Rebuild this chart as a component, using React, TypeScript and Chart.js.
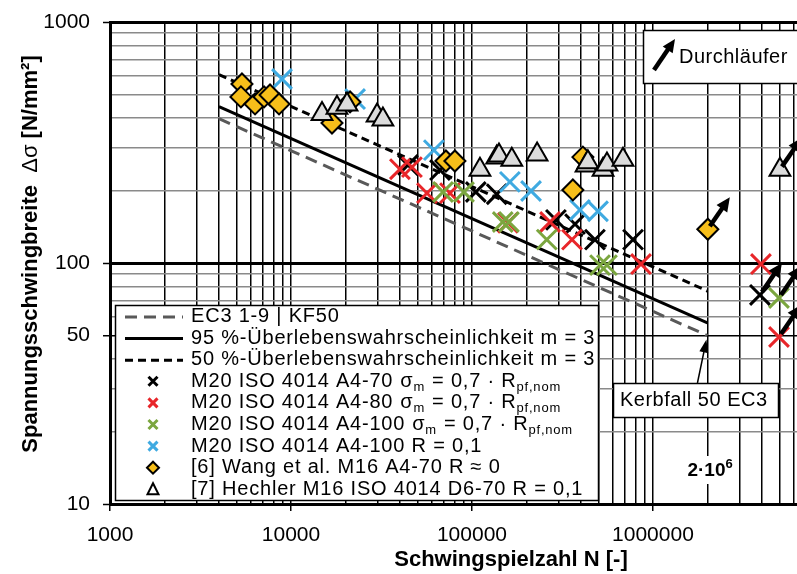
import React, { useEffect, useRef } from 'react';
import { Chart, registerables } from 'chart.js';

Chart.register(...registerables);

const FONT = '"Liberation Sans", Arial, Helvetica, sans-serif';

// Axis ranges and tick labels
const xMin = 1000;
const xMax = 6.25e6;
const yMin = 10;
const yMax = 1000;
const xTickLabels = [1000, 10000, 100000, 1000000];
const yTickLabels = [10, 50, 100, 1000];

// S-N lines (N from 4000 to 2e6)
const lineN = [4000, 2000000];
const kf50S = [397, 50];
const p95S = [445, 56.4];
const p50S = [605, 76.5];

// M20 ISO 4014 A4-70, sigma_m = 0.7 Rpf,nom
const a470N = [44300, 66600, 105000, 137000, 291000, 371000, 478000, 776000, 3900000];
const a470S = [255, 243, 197, 193, 151, 145, 125, 125, 73.7];

// M20 ISO 4014 A4-80
const a480N = [40000, 46600, 56400, 75600, 158000, 270000, 357000, 859000, 3950000, 4970000];
const a480S = [245, 250, 195, 195, 147, 148, 125, 99, 99, 49.3];

// M20 ISO 4014 A4-100
const a4100N = [69200, 90300, 148000, 160000, 259000, 510000, 557000, 4970000];
const a4100S = [197, 197, 148, 148, 125, 98, 98, 71.6];

// M20 ISO 4014 A4-100 R = 0,1
const a4100rN = [8920, 22600, 61600, 162000, 212000, 395000, 497000];
const a4100rS = [580, 479, 294, 217, 199, 166, 164];

// [6] Wang et al.
const wangN = [5360, 5290, 6330, 7100, 7660, 8590, 16850, 21200, 71800, 80500, 361000, 410000, 2010000];
const wangS = [553, 489, 457, 489, 498, 457, 381, 466, 265, 265, 201, 275, 138];

// [7] Hechler
const hechN = [14840, 17950, 20400, 29900, 32200, 110700, 137000, 141000, 166000, 229000, 427000, 437000, 530000, 557000, 683000, 5030000];
const hechS = [415, 441, 455, 409, 394, 244, 274, 279, 268, 282, 254, 262, 244, 256, 268, 244];

// Run-outs (Durchläufer)
const runoutN = [2010000, 5030000, 3900000, 4970000, 4970000];
const runoutS = [138, 244, 73.7, 71.6, 49.3];

const legendLabels = [
  'EC3 1-9 | KF50',
  '95 %-Überlebenswahrscheinlichkeit m = 3',
  '50 %-Überlebenswahrscheinlichkeit m = 3',
  'M20 ISO 4014 A4-70',
  'M20 ISO 4014 A4-80',
  'M20 ISO 4014 A4-100',
  'M20 ISO 4014 A4-100 R = 0,1',
  '[6] Wang et al. M16 A4-70 R ≈ 0',
  '[7] Hechler M16 ISO 4014 D6-70 R = 0,1',
];

const RED = '#E8262A';
const GREEN = '#7BA63F';
const BLUE = '#3FAAE1';
const YELLOW = '#F6BE1A';
const TRI = '#DCDCDC';
const GRAYLINE = '#595959';

const pts = (n: number[], s: number[]) => n.map((v, i) => ({ x: v, y: s[i] }));

const gridValues = (lo: number, hi: number) => {
  const out: number[] = [];
  for (let k = 0; k <= 8; k++) {
    for (let m = 1; m <= 9; m++) {
      const v = m * 10 ** k;
      if (v >= lo && v <= hi) out.push(v);
    }
  }
  return out;
};

function arrow(ctx: CanvasRenderingContext2D, x0: number, y0: number, x1: number, y1: number, lw: number, hl: number, hw: number) {
  const a = Math.atan2(y1 - y0, x1 - x0);
  const bx = x1 - hl * Math.cos(a);
  const by = y1 - hl * Math.sin(a);
  ctx.save();
  ctx.strokeStyle = '#000';
  ctx.fillStyle = '#000';
  ctx.lineWidth = lw;
  ctx.setLineDash([]);
  ctx.beginPath();
  ctx.moveTo(x0, y0);
  ctx.lineTo(bx + 1 * Math.cos(a), by + 1 * Math.sin(a));
  ctx.stroke();
  ctx.beginPath();
  ctx.moveTo(x1, y1);
  ctx.lineTo(bx + (hw / 2) * Math.sin(a), by - (hw / 2) * Math.cos(a));
  ctx.lineTo(bx - (hw / 2) * Math.sin(a), by + (hw / 2) * Math.cos(a));
  ctx.closePath();
  ctx.fill();
  ctx.restore();
}

type Seg = [string, string];
function drawSegs(ctx: CanvasRenderingContext2D, x: number, y: number, segs: Seg[], size: number, weight = '') {
  for (const [t, kind] of segs) {
    if (kind === 'sub') {
      ctx.font = `${weight} ${Math.round(size * 0.66)}px ${FONT}`;
      ctx.fillText(t, x, y + size * 0.3);
    } else if (kind === 'sup') {
      ctx.font = `${weight} ${Math.round(size * 0.68)}px ${FONT}`;
      ctx.fillText(t, x, y - size * 0.35);
    } else if (kind === 'gap') {
      x += Number(t);
      continue;
    } else if (kind === 'reg') {
      ctx.font = `${size}px ${FONT}`;
      ctx.fillText(t, x, y);
    } else {
      ctx.font = `${weight} ${size}px ${FONT}`;
      ctx.fillText(t, x, y);
    }
    x += ctx.measureText(t).width;
  }
  return x;
}

function crossMark(ctx: CanvasRenderingContext2D, x: number, y: number, r: number, color: string, lw: number) {
  ctx.save();
  ctx.strokeStyle = color;
  ctx.lineWidth = lw;
  ctx.beginPath();
  ctx.moveTo(x - r, y - r);
  ctx.lineTo(x + r, y + r);
  ctx.moveTo(x - r, y + r);
  ctx.lineTo(x + r, y - r);
  ctx.stroke();
  ctx.restore();
}

const overlay = {
  id: 'overlay',
  afterDatasetsDraw(chart: any) {
    const { ctx, scales } = chart;
    const xs = scales.x;
    const ys = scales.y;
    runoutN.forEach((n, i) => {
      const px = xs.getPixelForValue(n);
      const py = ys.getPixelForValue(runoutS[i]);
      arrow(ctx, px + 2, py - 3, px + 22, py - 32, 4.5, 14, 13);
    });
  },
  afterDraw(chart: any) {
    const { ctx, scales } = chart;
    const xs = scales.x;
    const ys = scales.y;
    ctx.save();
    ctx.textBaseline = 'middle';
    ctx.fillStyle = '#000';
    (ctx as any).letterSpacing = '0.8px';

    // Legend
    const L = 115.5, T = 305.5, W = 483, H = 195;
    ctx.fillStyle = '#fff';
    ctx.fillRect(L, T, W, H);
    ctx.strokeStyle = '#000';
    ctx.lineWidth = 1.5;
    ctx.strokeRect(L, T, W, H);
    const rowY = (i: number) => 316.5 + i * 21.6;
    const lx0 = 125, lx1 = 183, mx = 153, tx = 191;
    const lineStyles: [string, number[]][] = [
      [GRAYLINE, [12, 7]],
      ['#000', []],
      ['#000', [8, 5]],
    ];
    lineStyles.forEach(([c, d], i) => {
      ctx.save();
      ctx.strokeStyle = c;
      ctx.lineWidth = 3;
      ctx.setLineDash(d);
      ctx.beginPath();
      ctx.moveTo(lx0, rowY(i) + 0.5);
      ctx.lineTo(lx1, rowY(i) + 0.5);
      ctx.stroke();
      ctx.restore();
    });
    crossMark(ctx, mx, rowY(3), 4.5, '#000', 3);
    crossMark(ctx, mx, rowY(4), 4.5, RED, 3);
    crossMark(ctx, mx, rowY(5), 4.5, GREEN, 3);
    crossMark(ctx, mx, rowY(6), 4.5, BLUE, 3);
    // diamond
    ctx.save();
    ctx.fillStyle = YELLOW;
    ctx.strokeStyle = '#000';
    ctx.lineWidth = 2;
    ctx.beginPath();
    const dy = rowY(7);
    ctx.moveTo(mx - 6, dy);
    ctx.lineTo(mx, dy - 6);
    ctx.lineTo(mx + 6, dy);
    ctx.lineTo(mx, dy + 6);
    ctx.closePath();
    ctx.fill();
    ctx.stroke();
    // triangle
    const ty = rowY(8);
    ctx.fillStyle = '#fff';
    ctx.beginPath();
    ctx.moveTo(mx, ty - 6);
    ctx.lineTo(mx + 5.5, ty + 5);
    ctx.lineTo(mx - 5.5, ty + 5);
    ctx.closePath();
    ctx.fill();
    ctx.stroke();
    ctx.restore();

    ctx.fillStyle = '#000';
    const fs = 20;
    legendLabels.forEach((lab, i) => {
      if (i >= 3 && i <= 5) {
        drawSegs(ctx, tx, rowY(i), [
          [lab, 'n'], ['7', 'gap'], ['σ', 'n'], ['m', 'sub'], ['7', 'gap'], ['= 0,7 · R', 'n'], ['pf,nom', 'sub'],
        ], fs);
      } else {
        drawSegs(ctx, tx, rowY(i), [[lab, 'n']], fs);
      }
    });

    // Durchläufer box
    ctx.fillStyle = '#fff';
    ctx.fillRect(643.5, 30.5, 200, 53);
    ctx.strokeStyle = '#000';
    ctx.lineWidth = 1.5;
    ctx.strokeRect(643.5, 30.5, 200, 53);
    arrow(ctx, 654, 70, 675, 39, 4.5, 13, 12);
    ctx.fillStyle = '#000';
    (ctx as any).letterSpacing = '0.5px';
    drawSegs(ctx, 679, 57.5, [['Durchläufer', 'n']], 20);

    // Kerbfall label
    const kx = xs.getPixelForValue(2000000);
    const ky = ys.getPixelForValue(50);
    ctx.fillStyle = '#fff';
    ctx.fillRect(613.5, 383.5, 165, 34);
    ctx.strokeStyle = '#000';
    ctx.lineWidth = 1.5;
    ctx.strokeRect(613.5, 383.5, 165, 34);
    ctx.fillStyle = '#000';
    drawSegs(ctx, 620, 400.5, [['Kerbfall 50 EC3', 'n']], 20);
    arrow(ctx, kx - 10, 383, kx - 1, ky + 4, 1.5, 13, 9);

    // 2·10^6 label
    ctx.fillStyle = '#fff';
    ctx.fillRect(kx - 21, 456, 43, 28);
    ctx.fillStyle = '#000';
    (ctx as any).letterSpacing = '0px';
    drawSegs(ctx, kx - 20, 471, [['2·10', 'n'], ['6', 'sup']], 19, 'bold');

    // x-axis title
    ctx.font = `bold 22px ${FONT}`;
    ctx.textAlign = 'center';
    ctx.fillText('Schwingspielzahl N [-]', 511, 560);

    // y-axis title
    ctx.save();
    ctx.translate(31, 254);
    ctx.rotate(-Math.PI / 2);
    ctx.textAlign = 'left';
    const yParts: Seg[] = [['Spannungsschwingbreite  ', 'n'], ['Δσ', 'reg'], [' [N/mm²]', 'n']];
    let tw = 0;
    yParts.forEach(([t, k]) => {
      ctx.font = k === 'reg' ? `22px ${FONT}` : `bold 22px ${FONT}`;
      tw += ctx.measureText(t).width;
    });
    drawSegs(ctx, -tw / 2, 0, yParts, 22, 'bold');
    ctx.restore();
    ctx.restore();
  },
};

const xGrid = gridValues(xMin, xMax);
const yGrid = gridValues(yMin, yMax);

export default function App() {
  const ref = useRef<HTMLCanvasElement>(null);
  useEffect(() => {
    const canvas = ref.current;
    if (!canvas) return;
    Chart.defaults.font.family = FONT;
    Chart.defaults.color = '#000';
    const crossDs = (label: string, n: number[], s: number[], color: string, order: number) => ({
      label,
      data: pts(n, s),
      pointStyle: 'crossRot',
      pointRadius: 14,
      pointHoverRadius: 14,
      borderColor: color,
      backgroundColor: color,
      pointBorderWidth: 3,
      borderWidth: 3,
      order,
    });
    const lineDs = (label: string, s: number[], color: string, dash: number[]) => ({
      label,
      data: pts(lineN, s),
      showLine: true,
      borderColor: color,
      borderWidth: 3,
      borderDash: dash,
      pointRadius: 0,
      fill: false,
      order: 100,
    });
    const chart = new Chart(canvas, {
      type: 'scatter',
      data: {
        datasets: [
          lineDs(legendLabels[0], kf50S, GRAYLINE, [12, 7]),
          lineDs(legendLabels[1], p95S, '#000', []),
          lineDs(legendLabels[2], p50S, '#000', [8, 5]),
          crossDs(legendLabels[3], a470N, a470S, '#000', 6),
          crossDs(legendLabels[4], a480N, a480S, RED, 5),
          crossDs(legendLabels[5], a4100N, a4100S, GREEN, 4),
          crossDs(legendLabels[6], a4100rN, a4100rS, BLUE, 3),
          {
            label: legendLabels[7],
            data: pts(wangN, wangS),
            pointStyle: 'rectRot',
            pointRadius: 10.5,
            pointBackgroundColor: YELLOW,
            pointBorderColor: '#000',
            pointBorderWidth: 2,
            order: 2,
          },
          {
            label: legendLabels[8],
            data: pts(hechN, hechS),
            pointStyle: 'triangle',
            pointRadius: 12,
            pointBackgroundColor: TRI,
            pointBorderColor: '#000',
            pointBorderWidth: 2,
            order: 1,
          },
        ] as any,
      },
      options: {
        animation: false,
        responsive: false,
        devicePixelRatio: 1,
        events: [],
        layout: { autoPadding: false, padding: { top: 22, left: 0, right: 0, bottom: 0 } },
        plugins: { legend: { display: false }, tooltip: { enabled: false } },
        scales: {
          x: {
            type: 'logarithmic',
            min: xMin,
            max: xMax,
            afterBuildTicks: (scale: any) => {
              scale.ticks = xGrid.map((v) => ({ value: v }));
            },
            afterFit: (scale: any) => {
              scale.height = 70;
              scale.paddingLeft = 0;
              scale.paddingRight = 0;
              scale.paddingTop = 0;
              scale.paddingBottom = 0;
            },
            ticks: {
              autoSkip: false,
              maxRotation: 0,
              minRotation: 0,
              padding: 12,
              color: '#000',
              font: { size: 21, family: FONT },
              callback: (v: any) => (xTickLabels.includes(Number(v)) ? String(v) : ''),
            },
            grid: {
              color: '#000',
              lineWidth: 1.5,
              tickLength: 7,
              tickWidth: 1.5,
              tickColor: (c: any) => (c.tick && xTickLabels.includes(c.tick.value) ? '#000' : 'rgba(0,0,0,0)'),
            },
            border: { display: true, color: '#000', width: 3 },
            title: { display: false },
          },
          y: {
            type: 'logarithmic',
            min: yMin,
            max: yMax,
            afterBuildTicks: (scale: any) => {
              scale.ticks = yGrid.map((v) => ({ value: v }));
            },
            afterFit: (scale: any) => {
              scale.width = 110;
              scale.paddingLeft = 0;
              scale.paddingRight = 0;
              scale.paddingTop = 0;
              scale.paddingBottom = 0;
            },
            ticks: {
              autoSkip: false,
              padding: 13,
              color: '#000',
              font: { size: 21, family: FONT },
              callback: (v: any) => (yTickLabels.includes(Number(v)) ? String(v) : ''),
            },
            grid: {
              color: (c: any) => (c.tick && yTickLabels.includes(c.tick.value) ? '#000' : '#8a8a8a'),
              lineWidth: (c: any) => (c.tick && [10, 100, 1000].includes(c.tick.value) ? 3 : 1.5),
              tickLength: 7,
              tickWidth: 1.5,
              tickColor: (c: any) => (c.tick && yTickLabels.includes(c.tick.value) ? '#000' : 'rgba(0,0,0,0)'),
            },
            border: { display: true, color: '#000', width: 3 },
            title: { display: false },
          },
        },
      } as any,
      plugins: [overlay],
    });
    return () => chart.destroy();
  }, []);
  return (
    <div style={{ position: 'absolute', left: 0, top: 0, width: 797, height: 574, background: '#fff', overflow: 'hidden' }}>
      <canvas ref={ref} width={797} height={574} style={{ width: 797, height: 574, display: 'block' }} />
    </div>
  );
}
